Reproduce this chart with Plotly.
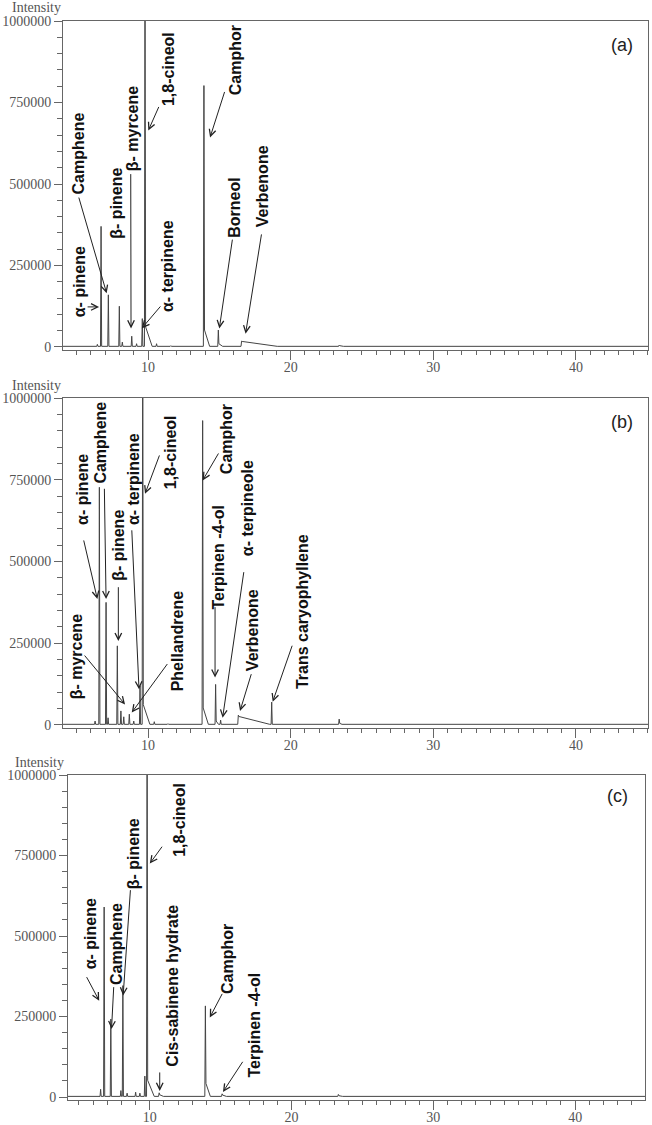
import plotly.graph_objects as go

# peak lists: retention time (min) and intensity
rt_a = [6.45, 6.71, 7.22, 7.99, 8.2, 8.86, 9.2, 9.6, 9.79, 10.6, 11.6, 13.92, 14.93, 16.56, 23.4]
height_a = [8000, 370000, 160000, 125000, 15000, 33000, 10000, 87000, 1300000, 10000, 4000, 802000, 52000, 18000, 6000]
tails_a = {9.79: (60000, 0.5), 13.92: (50000, 0.4), 14.93: (8000, 0.3), 16.56: (15000, 2.5), 23.4: (2000, 0.3)}

rt_b = [6.29, 6.59, 7.06, 7.2, 7.85, 8.1, 8.3, 8.69, 9.0, 9.44, 9.63, 10.44, 11.4, 13.83, 14.74, 15.09, 16.33, 18.67, 23.4]
height_b = [12000, 727000, 375000, 22000, 242000, 43000, 25000, 33000, 12000, 120000, 1300000, 10000, 4000, 931000, 124000, 15000, 30000, 70000, 18000]
tails_b = {9.63: (60000, 0.5), 13.83: (50000, 0.4), 14.74: (10000, 0.2), 16.33: (24000, 2.2), 23.4: (3000, 0.2)}

rt_c = [6.53, 6.78, 7.25, 7.96, 8.1, 8.4, 9.0, 9.3, 9.65, 9.81, 10.66, 13.92, 15.1, 23.3]
height_c = [24000, 590000, 242000, 20000, 346000, 12000, 15000, 12000, 65000, 1300000, 13000, 283000, 10000, 8000]
tails_c = {9.81: (50000, 0.5), 10.66: (5000, 0.3), 13.92: (40000, 0.35), 15.1: (4000, 0.3), 23.3: (2000, 0.3)}

# labels: (text, x, y) and arrows: (tail x, tail y, head x, head y)
labels_a = [("α- pinene", 5.17, 199000), ("Camphene", 5.12, 595000), ("β- pinene", 7.81, 442000),
            ("β- myrcene", 8.97, 669000), ("1,8-cineol", 11.43, 854000), ("α- terpinene", 11.37, 247000),
            ("Camphor", 16.1, 880000), ("Borneol", 16.1, 427000), ("Verbenone", 18.08, 494000)]
arrows_a = [(5.66, 123000, 6.57, 123000), (5.12, 463000, 7.1, 165000), (8.79, 535000, 8.81, 57000),
            (10.8, 741000, 10.02, 664000), (10.96, 129000, 9.56, 57000), (15.4, 787000, 14.35, 643000),
            (15.93, 334000, 15.0, 57000), (17.97, 350000, 16.84, 41000)]

labels_b = [("α- pinene", 5.4, 720000), ("Camphene", 6.69, 863000), ("β- pinene", 7.92, 549000),
            ("α- terpinene", 8.97, 753000), ("β- myrcene", 5.0, 209000), ("Phellandrene", 12.13, 257000),
            ("1,8-cineol", 11.54, 834000), ("Camphor", 15.51, 873000), ("Terpinen -4-ol", 14.93, 513000),
            ("α- terpineole", 17.03, 664000), ("Verbenone", 17.38, 291000), ("Trans caryophyllene", 20.88, 346000)]
arrows_b = [(5.47, 569000, 6.45, 385000), (6.94, 727000, 7.06, 385000), (7.92, 426000, 7.92, 257000),
            (8.86, 600000, 9.37, 109000), (5.47, 217000, 8.39, 63000), (11.43, 191000, 8.86, 38000),
            (10.84, 829000, 9.79, 707000), (15.0, 835000, 13.83, 748000), (14.7, 365000, 14.7, 145000),
            (16.73, 472000, 15.23, 22000), (17.27, 160000, 16.45, 43000), (20.14, 247000, 18.74, 71000)]

labels_c = [("α- pinene", 5.82, 507000), ("Camphene", 7.7, 476000), ("β- pinene", 8.87, 756000),
            ("1,8-cineol", 12.04, 860000), ("Cis-sabinene hydrate", 11.64, 346000),
            ("Camphor", 15.52, 429000), ("Terpinen -4-ol", 17.39, 224000)]
arrows_c = [(5.49, 377000, 6.43, 299000), (7.46, 346000, 7.3, 211000), (8.64, 647000, 8.12, 315000),
            (10.94, 782000, 10.0, 725000), (10.7, 81000, 10.7, 19000), (15.16, 325000, 14.23, 247000),
            (16.62, 114000, 15.16, 16000)]

panel_names = ["(a)", "(b)", "(c)"]

BASE = 2000
GRAY = "#666"


def spikes(rt, height, tails, x0, x1):
    xs, ys = [x0], [BASE]
    for t, v in zip(rt, height):
        xs += [t - 0.04, t]
        ys += [BASE, v]
        if t in tails:
            th, tl = tails[t]
            xs += [t + 0.04, t + tl]
            ys += [BASE + th, BASE]
        else:
            xs += [t + 0.04]
            ys += [BASE]
    xs.append(x1)
    ys.append(BASE)
    return xs, ys


fig = go.Figure()

panels = [
    (rt_a, height_a, tails_a, labels_a, arrows_a, "", [4.04, 45.05], [-9200, 1000000],
     [0.0966, 0.9939], [0.6889, 0.9813]),
    (rt_b, height_b, tails_b, labels_b, arrows_b, "2", [4.04, 45.05], [-9200, 1000000],
     [0.0966, 0.9939], [0.3529, 0.6462]),
    (rt_c, height_c, tails_c, labels_c, arrows_c, "3", [4.23, 44.93], [-9300, 1000000],
     [0.1043, 0.9893], [0.0222, 0.3111]),
]

annotations = []
for rt, h, tails, labels, arrows, n, xr, yr, xd, yd in panels:
    xs, ys = spikes(rt, h, tails, xr[0], xr[1])
    fig.add_trace(go.Scatter(x=xs, y=ys, mode="lines", line=dict(color="#444", width=1),
                             xaxis="x" + n, yaxis="y" + n, hoverinfo="skip"))
    fig.update_layout(**{
        "xaxis" + n: dict(domain=xd, range=xr, anchor="y" + n, showline=True, linecolor=GRAY,
                          linewidth=1, mirror=True, ticks="outside", ticklen=9, tickcolor=GRAY,
                          tick0=0, dtick=10, showgrid=False, zeroline=False, automargin=False,
                          ticklabelstandoff=-5,
                          minor=dict(dtick=1, ticks="outside", ticklen=4, tickcolor=GRAY),
                          tickfont=dict(family="Liberation Serif", size=14, color="#555")),
        "yaxis" + n: dict(domain=yd, range=yr, anchor="x" + n, showline=True, linecolor=GRAY,
                          linewidth=1, mirror=True, ticks="outside", ticklen=8, tickcolor=GRAY,
                          tickvals=[0, 250000, 500000, 750000, 1000000], tickformat="d",
                          showgrid=False, zeroline=False, ticklabelstandoff=0, automargin=False,
                          minor=dict(dtick=50000, ticks="outside", ticklen=5, tickcolor=GRAY),
                          tickfont=dict(family="Liberation Serif", size=14, color="#555")),
    })
    for txt, x, y in labels:
        annotations.append(dict(x=x, y=y, xref="x" + n, yref="y" + n, text="<b>" + txt + "</b>",
                                textangle=-90, showarrow=False, xanchor="center", yanchor="middle",
                                font=dict(family="Liberation Sans", size=16, color="#111")))
    for ax, ay, x, y in arrows:
        annotations.append(dict(x=x, y=y, ax=ax, ay=ay, xref="x" + n, yref="y" + n,
                                axref="x" + n, ayref="y" + n, text="", showarrow=True,
                                arrowhead=5, arrowsize=1.3, arrowwidth=1, arrowcolor="#222"))

# panel letters and "Intensity" titles
for name, lx, ly, iy, ix in zip(panel_names, [622, 622, 617], [45, 422, 796], [8, 385, 763], [36, 36, 39]):
    annotations.append(dict(x=lx / 652, y=1 - ly / 1125, xref="paper", yref="paper", text=name,
                            showarrow=False, xanchor="center", yanchor="middle",
                            font=dict(family="Liberation Sans", size=18, color="#222")))
    annotations.append(dict(x=ix / 652, y=1 - iy / 1125, xref="paper", yref="paper",
                            text="Intensity", showarrow=False, xanchor="center", yanchor="middle",
                            font=dict(family="Liberation Serif", size=14, color="#555")))

fig.update_layout(width=652, height=1125, margin=dict(l=0, r=0, t=0, b=0),
                  paper_bgcolor="white", plot_bgcolor="white", showlegend=False,
                  annotations=annotations)

fig.write_html("out.html", config={"displayModeBar": False},
               post_script="document.body.style.margin='0';")
